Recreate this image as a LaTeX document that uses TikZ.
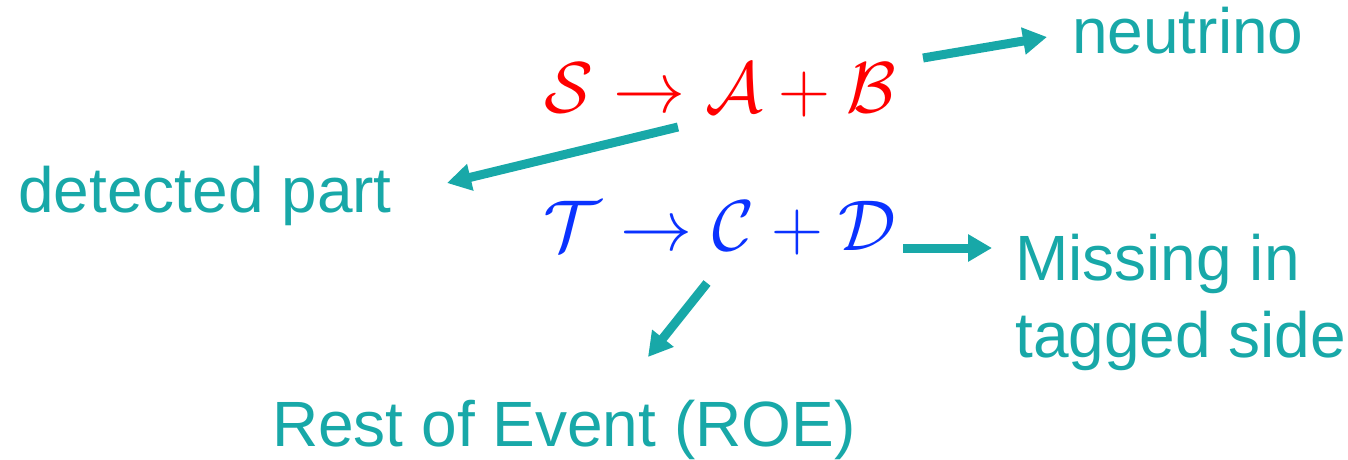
\RequirePackage{fix-cm}
\documentclass[tikz,border=0pt]{standalone}
\usepackage{fontspec}
\setmainfont{Liberation Sans}
\usetikzlibrary{arrows.meta}
\definecolor{tealc}{RGB}{24,168,168}
\definecolor{redc}{RGB}{255,0,0}
\definecolor{bluec}{RGB}{10,50,255}
\tikzset{
  lbl/.style={text=tealc, inner sep=0pt, font=\fontsize{64}{63}\selectfont},
  formula/.style={inner sep=0pt, font=\fontsize{72}{80}\selectfont},
  conn/.style={draw=tealc, line width=9pt, -{Triangle[length=24pt,width=26pt]}}
}
\begin{document}
\begin{tikzpicture}[x=1pt,y=-1pt]
\useasboundingbox (0,0) rectangle (1348,460);
% formulas
\node[formula, text=redc, anchor=base] (f1) at (720,112) {$\mathcal{S}\rightarrow\mathcal{A}+\mathcal{B}$};
\node[formula, text=bluec, anchor=base] (f2) at (720,250) {$\mathcal{T}\rightarrow\mathcal{C}+\mathcal{D}$};
% labels
\node[lbl, anchor=base west] (nu) at (1072,53) {neutrino};
\node[lbl, anchor=base west] (det) at (18,212) {detected part};
\node[lbl, anchor=base west] (miss) at (1015,280) {Missing in};
\node[lbl, anchor=base west] (tag) at (1015,357) {tagged side};
\node[lbl, anchor=base west] (roe) at (272,446) {Rest of Event (ROE)};
% connector end points
\coordinate (a1s) at (923,58);  \coordinate (a1e) at (1047,37);
\coordinate (a2s) at (678,127); \coordinate (a2e) at (447,183);
\coordinate (a3s) at (903,248); \coordinate (a3e) at (992,248);
\coordinate (a4s) at (707,283); \coordinate (a4e) at (648,357);
\draw[conn] (a1s) -- (a1e);
\draw[conn] (a2s) -- (a2e);
\draw[conn] (a3s) -- (a3e);
\draw[conn] (a4s) -- (a4e);
\end{tikzpicture}
\end{document}
